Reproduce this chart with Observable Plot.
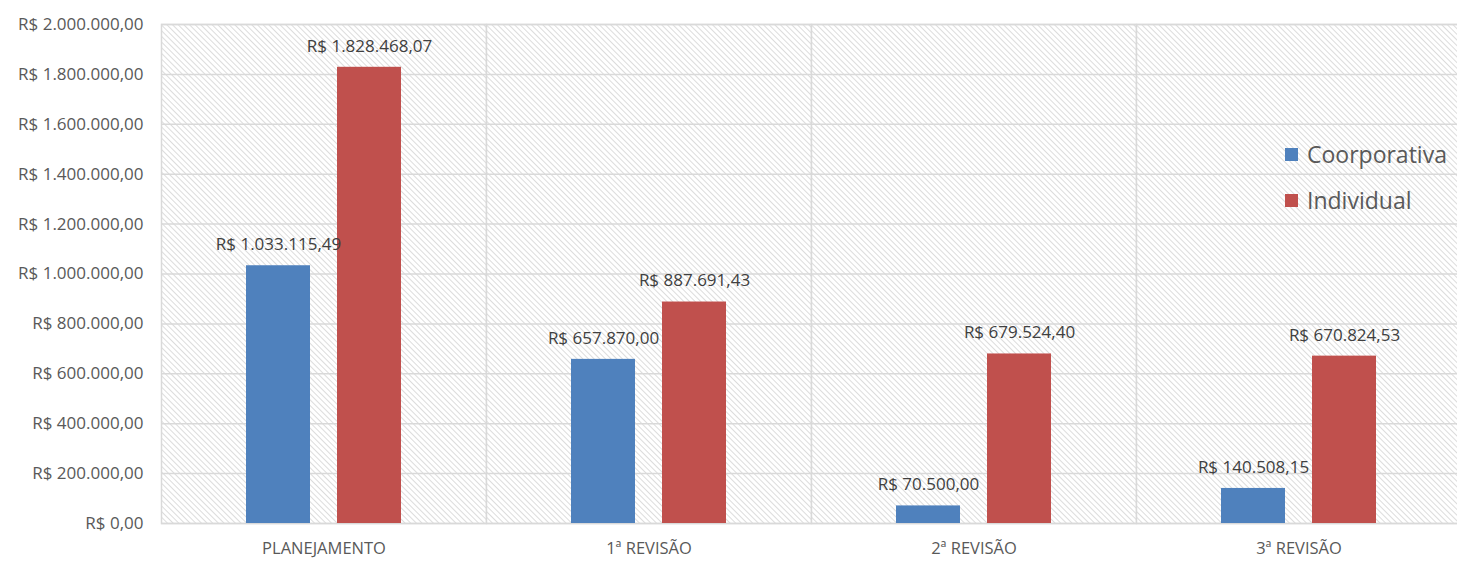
<!DOCTYPE html>
<html>
<head>
<meta charset="utf-8">
<script src="https://cdn.jsdelivr.net/npm/d3@7"></script>
<script src="https://cdn.jsdelivr.net/npm/@observablehq/plot@0.6"></script>
<style>
  html, body { margin: 0; padding: 0; background: #fff; }
  #wrap { position: relative; width: 1457px; height: 561px; overflow: hidden; font-family: "Open Sans", sans-serif; }
  .legend { position: absolute; left: 1285px; font-size: 23px; color: #595959; display: flex; align-items: center; }
  .legend span.sw { display: inline-block; width: 13px; height: 13px; margin-right: 9px; }
</style>
</head>
<body>
<div id="wrap"></div>
<script>
const categories = ["PLANEJAMENTO", "1ª REVISÃO", "2ª REVISÃO", "3ª REVISÃO"];
const series = ["Coorporativa", "Individual"];
const coorporativa = [1033115.49, 657870.00, 70500.00, 140508.15];
const individual = [1828468.07, 887691.43, 679524.40, 670824.53];
const yTicks = [0, 200000, 400000, 600000, 800000, 1000000, 1200000, 1400000, 1600000, 1800000, 2000000];
const colors = ["#4F81BD", "#C0504D"];

const data = [];
categories.forEach((c, i) => {
  data.push({cat: c, series: series[0], value: coorporativa[i]});
  data.push({cat: c, series: series[1], value: individual[i]});
});

const loc = d3.formatLocale({decimal: ",", thousands: ".", grouping: [3], currency: ["R$ ", ""]});
const fmt = loc.format("$,.2f");

const chart = Plot.plot({
  width: 1457,
  height: 561,
  marginLeft: 161,
  marginRight: -4,
  marginTop: 24,
  marginBottom: 38,
  style: {fontFamily: "Open Sans, sans-serif", fontSize: "17px", color: "#595959", background: "transparent"},
  fx: {domain: categories, padding: 0, label: null, axis: null},
  x: {domain: series, paddingInner: 0.297, paddingOuter: 0.93, axis: null},
  y: {domain: [0, 2000000], label: null},
  color: {domain: series, range: colors},
  marks: [
    Plot.frame({fill: "url(#hatch)", stroke: "#d9d9d9", strokeWidth: 1.5}),
    Plot.gridY(yTicks, {stroke: "#d9d9d9", strokeOpacity: 1, strokeWidth: 1.5}),
    Plot.axisY(yTicks, {tickFormat: fmt, tickSize: 0, tickPadding: 18, fill: "#595959", fontSize: 17, letterSpacing: 0.8, label: null}),
    Plot.axisFx({anchor: "bottom", tickSize: 0, tickPadding: 19, fill: "#595959", fontSize: 16.5, label: null, letterSpacing: 1.3}),
    Plot.barY(data, {fx: "cat", x: "series", y: "value", fill: "series"}),
    Plot.text(data, {fx: "cat", x: "series", y: "value", text: d => fmt(d.value), dy: -21, fill: "#404040", fontSize: 17, letterSpacing: 0.8, lineAnchor: "middle"})
  ]
});

const defs = d3.select(chart).insert("defs", ":first-child");
const pat = defs.append("pattern")
  .attr("id", "hatch")
  .attr("patternUnits", "userSpaceOnUse")
  .attr("width", 4).attr("height", 4)
  .attr("patternTransform", "rotate(-45)");
pat.append("rect").attr("width", 4).attr("height", 4).attr("fill", "#ffffff");
pat.append("line").attr("x1", 0).attr("y1", 0).attr("x2", 0).attr("y2", 4)
  .attr("stroke", "#d4d4d4").attr("stroke-width", 1.6);

const wrap = document.getElementById("wrap");
wrap.appendChild(chart);

series.forEach((s, i) => {
  const div = document.createElement("div");
  div.className = "legend";
  div.style.top = (138 + i * 46) + "px";
  div.innerHTML = `<span class="sw" style="background:${colors[i]}"></span><span>${s}</span>`;
  wrap.appendChild(div);
});
</script>
</body>
</html>
